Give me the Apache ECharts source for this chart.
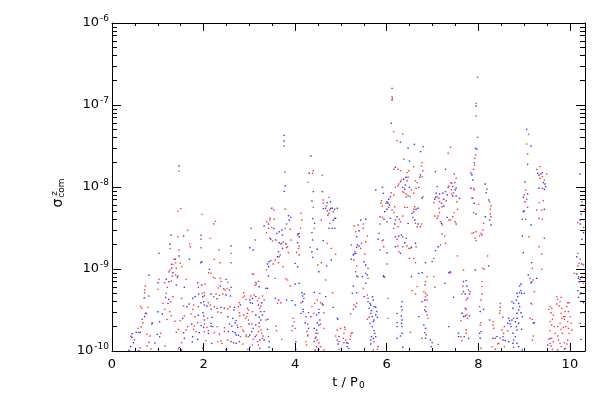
<!DOCTYPE html>
<html><head><meta charset="utf-8">
<script src="https://cdn.jsdelivr.net/npm/echarts@6/dist/echarts.min.js"></script>
<style>html,body{margin:0;padding:0;background:#fff}#c{width:600px;height:400px}</style>
</head><body><div id="c"></div>
<script>
// t / P0 range and log10(sigma) range
const xMax = 10.33;
const xTickValues = [0, 2, 4, 6, 8, 10];
const xMinorValues = [0.5,1,1.5,2.5,3,3.5,4.5,5,5.5,6.5,7,7.5,8.5,9,9.5];
const yDecades = [-10, -9, -8, -7, -6];

// points: [t/P0, log10(sigma_com^z)]
const redPoints = [
[1.463,-7.809],[1.441,-8.297],[1.441,-8.606],[1.266,-8.752],[1.463,-8.768],[1.354,-8.882],[1.332,-8.943],[1.296,-8.943],[1.390,-8.923],[1.405,-8.992],[1.266,-9.012],[1.244,-9.033],[1.317,-9.086],[1.390,-9.073],[1.441,-9.086],[1.150,-9.167],[1.296,-9.147],[1.025,-9.126],[0.726,-9.208],[1.208,-9.224],[1.004,-9.248],[0.712,-9.256],[0.712,-9.289],[0.806,-9.329],[1.186,-9.297],[1.332,-9.338],[1.281,-9.399],[1.113,-9.419],[0.624,-9.460],[0.653,-9.480],[0.785,-9.468],[0.755,-9.541],[1.150,-9.492],[1.259,-9.521],[1.296,-9.569],[1.201,-9.614],[1.376,-9.638],[0.675,-9.655],[0.639,-9.704],[0.879,-9.655],[0.566,-9.724],[0.763,-9.797],[0.828,-9.817],[0.412,-9.821],[0.493,-9.866],[1.062,-9.785],[1.405,-9.773],[1.449,-9.736],[1.157,-9.939],[0.770,-9.939],[0.617,-9.960],[0.850,-9.976],[1.449,-9.976],
[1.506,-8.264],[1.966,-8.334],[2.251,-8.419],[2.221,-8.451],[1.652,-8.529],[1.944,-8.638],[1.696,-8.695],[1.710,-8.728],[1.944,-8.740],[2.141,-8.626],[2.338,-8.769],[2.601,-8.809],[1.491,-8.931],[1.521,-8.972],[2.236,-8.882],[2.360,-8.923],[2.601,-8.923],[2.112,-9.045],[2.163,-9.053],[2.214,-9.102],[2.251,-9.114],[2.367,-9.114],[2.382,-9.151],[2.528,-9.163],[1.616,-9.126],[2.032,-9.183],[1.886,-9.224],[2.324,-9.232],[2.440,-9.240],[2.470,-9.256],[2.513,-9.236],[2.419,-9.305],[1.521,-9.358],[1.966,-9.297],[2.017,-9.289],[2.017,-9.325],[2.221,-9.338],[2.273,-9.305],[2.346,-9.321],[2.878,-9.289],[2.893,-9.329],[2.864,-9.346],[2.930,-9.370],[2.784,-9.411],[2.762,-9.460],[1.564,-9.451],[1.783,-9.439],[1.762,-9.492],[1.886,-9.460],[2.105,-9.411],[2.148,-9.439],[2.236,-9.460],[2.528,-9.484],[2.579,-9.460],[1.579,-9.573],[1.725,-9.549],[1.813,-9.582],[2.090,-9.602],[2.309,-9.525],[2.382,-9.533],[2.784,-9.533],[2.791,-9.573],[2.878,-9.561],[2.915,-9.602],[1.491,-9.630],[1.652,-9.703],[1.798,-9.695],[1.871,-9.655],[2.017,-9.671],[2.075,-9.712],[2.105,-9.752],[2.294,-9.703],[2.455,-9.716],[2.732,-9.687],[2.820,-9.703],[2.857,-9.744],[1.616,-9.744],[1.783,-9.736],[1.835,-9.764],[2.017,-9.764],[2.236,-9.777],[2.455,-9.760],[2.805,-9.825],[2.878,-9.764],[2.930,-9.805],[1.521,-9.899],[2.054,-9.874],[2.309,-9.886],[2.382,-9.874],[2.404,-9.907],[2.528,-9.866],[2.659,-9.899],[2.857,-9.915],[2.930,-9.825],[2.966,-9.980],
[3.761,-7.500],[3.782,-7.821],[4.381,-7.833],[4.396,-7.801],[4.279,-7.943],[4.396,-8.248],[3.534,-8.281],[3.454,-8.382],[3.542,-8.394],[3.447,-8.403],[3.381,-8.423],[3.490,-8.492],[3.417,-8.504],[3.782,-8.272],[3.892,-8.516],[3.782,-8.504],[4.126,-8.321],[4.147,-8.403],[4.118,-8.504],[4.053,-8.585],[4.418,-8.504],[3.125,-8.646],[3.374,-8.557],[3.469,-8.638],[3.505,-8.659],[3.688,-8.695],[3.709,-8.687],[3.746,-8.671],[3.834,-8.728],[3.907,-8.646],[3.812,-8.740],[3.855,-8.801],[4.089,-8.720],[4.074,-8.748],[4.031,-8.797],[4.089,-8.829],[4.330,-8.736],[3.673,-8.829],[3.563,-8.890],[3.520,-8.939],[3.739,-8.972],[3.636,-8.923],[3.651,-8.850],[3.374,-9.012],[3.067,-9.061],[3.089,-9.065],[3.563,-9.114],[3.797,-9.118],[3.834,-9.134],[3.892,-9.207],[3.198,-9.150],[3.155,-9.183],[3.125,-9.195],[3.031,-9.329],[3.104,-9.317],[3.177,-9.386],[3.213,-9.358],[3.286,-9.329],[3.323,-9.378],[3.250,-9.451],[3.615,-9.419],[3.688,-9.411],[2.958,-9.480],[2.979,-9.500],[3.067,-9.520],[3.228,-9.480],[4.126,-9.411],[4.425,-9.419],[4.366,-9.459],[4.403,-9.541],[4.293,-9.533],[2.958,-9.541],[2.943,-9.581],[2.979,-9.622],[3.052,-9.671],[3.359,-9.622],[3.213,-9.703],[3.250,-9.744],[3.271,-9.785],[3.301,-9.817],[3.198,-9.764],[3.155,-9.805],[3.286,-9.846],[2.979,-9.825],[3.082,-9.858],[3.177,-9.886],[3.198,-9.927],[3.067,-9.927],[3.417,-9.825],[3.578,-9.695],[3.593,-9.752],[3.709,-9.858],[3.958,-9.602],[3.980,-9.642],[3.943,-9.695],[4.001,-9.724],[3.928,-9.752],[4.272,-9.671],[4.279,-9.805],[4.272,-9.817],[4.235,-9.886],[4.250,-9.927],[4.439,-9.846],[4.439,-9.988],
[4.592,-7.858],[4.613,-8.159],[4.613,-8.199],[4.738,-8.126],[4.686,-8.232],[4.701,-8.289],[4.759,-8.281],[4.832,-8.301],[4.738,-8.321],[4.862,-8.382],[4.759,-8.443],[4.570,-8.403],[4.701,-8.687],[4.789,-8.748],[4.570,-8.923],[4.497,-8.951],[4.884,-8.821],[4.665,-9.134],[4.818,-9.289],[4.555,-9.411],[4.613,-9.439],[4.482,-9.378],[4.628,-9.533],[4.555,-9.671],[4.628,-9.724],[4.497,-9.785],[4.482,-9.866],[4.519,-9.899],[4.467,-9.947],[4.555,-9.947],[4.628,-9.988],[4.993,-9.724],[4.920,-9.744],[5.081,-9.711],[5.088,-9.736],[5.066,-9.785],[4.884,-9.817],[4.920,-9.866],[5.051,-9.846],[5.103,-9.866],[5.066,-9.899],[4.957,-9.980],[5.212,-9.817],[5.227,-9.785],[5.249,-9.776],[5.197,-9.858],[5.489,-8.451],[5.373,-8.463],[5.285,-8.476],[5.489,-8.504],[5.322,-8.545],[5.577,-8.598],[5.541,-8.667],[5.446,-8.687],[5.227,-8.707],[5.300,-8.789],[5.431,-8.748],[5.519,-8.817],[5.285,-8.890],[5.343,-8.964],[5.322,-9.033],[5.373,-9.094],[5.592,-9.114],[5.489,-9.236],[5.577,-9.317],[5.592,-9.358],[5.343,-9.419],[5.285,-9.439],[5.270,-9.492],[5.212,-9.549],[5.614,-9.589],[5.577,-9.614],[5.723,-9.886],[5.796,-9.980],[5.708,-9.988],[5.884,-8.167],[5.869,-8.199],[5.906,-8.232],[5.854,-8.362],[5.906,-8.370],[5.854,-8.451],[5.927,-8.646],[5.854,-8.768],
[6.116,-6.898],[6.123,-6.919],[6.153,-7.325],[6.350,-7.354],[6.226,-7.435],[6.372,-7.662],[6.591,-7.752],[6.773,-7.703],[6.758,-7.744],[6.788,-7.801],[6.247,-7.784],[6.153,-7.784],[6.299,-7.801],[6.481,-7.801],[6.445,-7.825],[6.320,-7.915],[6.262,-7.963],[6.247,-7.988],[6.189,-8.004],[6.466,-7.882],[6.445,-7.923],[6.539,-8.036],[6.627,-7.923],[6.664,-7.947],[6.773,-7.874],[6.642,-8.016],[6.591,-8.077],[6.518,-8.118],[6.423,-8.126],[6.372,-8.069],[6.350,-8.057],[6.423,-8.085],[6.612,-8.240],[6.788,-8.118],[6.591,-8.272],[6.591,-8.301],[6.627,-8.443],[6.758,-8.451],[6.664,-8.484],[6.101,-8.069],[6.153,-8.097],[5.985,-8.199],[6.043,-8.248],[6.153,-8.313],[6.116,-8.280],[6.174,-8.240],[6.007,-8.423],[6.153,-8.504],[6.247,-8.484],[6.277,-8.394],[6.299,-8.423],[6.350,-8.354],[6.393,-8.248],[6.445,-8.248],[7.394,-7.516],[7.342,-7.589],[7.394,-7.947],[7.357,-7.988],[7.415,-8.036],[7.028,-8.191],[7.102,-8.118],[7.138,-8.138],[7.153,-8.179],[7.299,-8.167],[7.211,-8.240],[7.138,-8.260],[7.153,-8.313],[7.123,-8.354],[7.174,-8.423],[7.211,-8.463],[7.357,-8.402],[7.394,-8.402],[7.050,-8.354],[7.102,-8.382],[5.897,-8.654],[5.934,-8.728],[6.007,-8.939],[5.955,-9.101],[6.226,-8.638],[6.350,-8.606],[6.247,-8.719],[6.262,-8.788],[6.350,-8.728],[6.445,-8.719],[6.481,-8.748],[6.518,-8.748],[6.642,-8.728],[6.496,-8.870],[6.591,-8.870],[6.627,-8.923],[7.211,-8.573],[7.269,-8.597],[7.284,-8.687],[7.174,-8.707],[7.028,-8.870],[6.883,-9.093],[6.846,-9.154],[6.831,-9.195],[6.810,-9.276],[6.846,-9.297],[6.883,-9.317],[6.846,-9.337],[6.883,-9.378],[7.394,-9.045],[7.028,-9.093],[7.050,-9.223],[6.664,-9.215],[6.554,-9.264],[6.627,-9.305],[6.028,-9.358],[6.335,-9.500],[6.028,-9.602],[6.846,-9.459],[6.883,-9.561],[6.905,-9.602],[6.861,-9.805],[6.773,-9.845],[7.123,-9.919],[6.518,-9.772],
[7.984,-6.662],[7.954,-6.980],[7.954,-7.134],[7.984,-7.394],[7.940,-7.610],[7.925,-7.650],[7.918,-7.732],[7.896,-7.784],[7.896,-8.016],[7.911,-8.036],[7.860,-8.138],[7.881,-8.138],[7.896,-8.313],[7.473,-7.841],[7.516,-7.894],[7.422,-7.955],[7.458,-8.069],[7.422,-8.085],[7.531,-8.179],[7.546,-8.272],[7.473,-8.313],[7.443,-8.362],[7.495,-8.423],[8.188,-8.028],[8.246,-8.179],[8.276,-8.232],[8.261,-8.272],[8.261,-8.329],[8.276,-8.362],[8.115,-8.443],[8.100,-8.524],[8.057,-8.565],[8.027,-8.597],[7.954,-8.545],[7.933,-8.626],[7.896,-8.557],[7.860,-8.565],[7.954,-8.654],[8.006,-8.211],[7.546,-8.841],[7.677,-9.012],[8.203,-8.841],[8.100,-8.992],[8.130,-9.004],[7.662,-9.207],[7.641,-9.305],[7.787,-9.256],[7.823,-9.276],[7.735,-9.378],[7.714,-9.479],[7.750,-9.561],[7.765,-9.601],[7.619,-9.630],[7.619,-9.825],[7.735,-9.744],[7.735,-9.784],[7.641,-9.874],[8.078,-9.154],[8.078,-9.215],[8.078,-9.305],[8.057,-9.378],[8.027,-9.459],[8.057,-9.654],[8.042,-9.683],[8.057,-9.967],[8.319,-9.642],[8.319,-9.683],[8.334,-9.723],[8.371,-9.845],[8.444,-9.906],[8.422,-9.914],[8.298,-9.947],[8.371,-9.979],[8.480,-9.419],[8.480,-9.467],[8.480,-9.508],[8.465,-9.540],[8.538,-9.589],[8.568,-9.703],[8.517,-9.744],[8.553,-9.784],[8.480,-9.845],[8.568,-9.947],[8.772,-9.601],[8.772,-9.955],[8.641,-9.752],
[9.099,-7.358],[9.056,-7.476],[9.077,-7.598],[9.348,-7.752],[9.275,-7.785],[9.369,-7.842],[9.494,-7.842],[9.399,-7.874],[9.348,-7.894],[9.442,-7.915],[9.399,-8.016],[9.034,-8.037],[9.004,-8.098],[9.056,-8.150],[9.077,-8.248],[9.034,-8.394],[9.326,-8.191],[9.421,-8.167],[9.275,-8.281],[9.384,-8.281],[9.326,-8.382],[9.399,-8.394],[9.107,-8.606],[9.326,-8.728],[9.384,-8.817],[9.384,-9.004],[9.180,-8.992],[9.202,-9.134],[9.165,-9.155],[9.223,-9.276],[9.150,-9.419],[9.165,-9.427],[9.128,-9.602],[9.180,-9.614],[9.202,-9.817],[9.180,-9.866],[9.567,-9.459],[9.545,-9.492],[9.603,-9.480],[9.588,-9.533],[9.640,-9.561],[9.618,-9.614],[9.567,-9.642],[9.603,-9.683],[9.567,-9.752],[9.661,-9.703],[9.676,-9.785],[9.603,-9.846],[9.545,-9.858],[9.640,-9.886],[9.567,-9.907],[9.588,-9.939],[9.618,-9.980],[9.713,-9.337],[9.734,-9.370],[9.713,-9.427],[9.807,-9.346],[9.786,-9.398],[9.764,-9.451],[9.822,-9.480],[9.807,-9.541],[9.859,-9.581],[9.822,-9.602],[9.880,-9.614],[9.895,-9.581],[9.786,-9.663],[9.734,-9.703],[9.807,-9.736],[9.859,-9.711],[9.837,-9.785],[9.734,-9.817],[9.749,-9.866],[9.786,-9.907],[9.807,-9.947],[9.734,-9.988],[9.880,-9.899],[9.953,-9.411],[9.983,-9.411],[9.932,-9.459],[9.895,-9.520],[9.968,-9.520],[10.005,-9.581],[9.953,-9.642],[10.026,-9.663],[9.968,-9.724],[10.041,-9.744],[9.910,-9.703],[9.983,-9.785],[9.953,-9.866],[9.932,-9.915],[10.005,-9.947],[9.880,-9.980],[10.260,-8.179],[10.318,-8.272],[10.172,-8.435],[10.297,-8.492],[10.172,-8.809],[10.224,-8.882],[10.202,-8.931],[10.172,-8.964],[10.297,-8.951],[10.099,-9.053],[10.187,-9.094],[10.260,-9.094],[10.297,-9.175],[10.224,-9.305],[10.245,-9.533]
];
const bluePoints = [
[1.463,-7.744],[1.288,-8.586],[1.266,-8.699],[1.463,-8.842],[1.025,-8.809],[1.383,-8.882],[1.303,-8.988],[1.332,-9.045],[1.427,-9.102],[0.806,-9.077],[1.186,-9.126],[1.244,-9.155],[1.004,-9.167],[1.405,-9.195],[0.704,-9.354],[1.171,-9.346],[1.237,-9.370],[1.223,-9.419],[0.733,-9.541],[0.712,-9.582],[1.004,-9.521],[1.098,-9.549],[1.040,-9.643],[0.660,-9.614],[0.872,-9.671],[0.587,-9.773],[0.617,-9.773],[0.529,-9.773],[0.441,-9.789],[0.434,-9.834],[0.471,-9.899],[0.989,-9.797],[1.040,-9.825],[0.938,-9.903],[0.806,-9.895],[0.405,-9.947],[0.368,-9.990],[0.587,-9.996],[1.471,-9.956],
[1.564,-8.598],[1.944,-8.590],[2.601,-8.720],[1.689,-8.882],[1.959,-8.911],[1.937,-8.923],[2.127,-9.004],[2.492,-9.126],[1.579,-9.224],[1.871,-9.167],[1.959,-9.195],[2.367,-9.208],[2.565,-9.256],[2.601,-9.224],[2.492,-9.317],[2.586,-9.329],[1.762,-9.358],[1.813,-9.338],[1.893,-9.305],[1.981,-9.338],[2.163,-9.305],[2.294,-9.362],[2.805,-9.439],[2.674,-9.468],[2.659,-9.500],[1.637,-9.460],[1.689,-9.427],[1.944,-9.411],[2.002,-9.399],[2.017,-9.439],[2.075,-9.451],[2.163,-9.492],[2.294,-9.480],[2.382,-9.468],[2.455,-9.476],[1.543,-9.602],[1.886,-9.565],[1.988,-9.533],[2.002,-9.573],[2.017,-9.622],[2.185,-9.590],[2.163,-9.663],[2.528,-9.582],[2.637,-9.602],[2.711,-9.630],[1.740,-9.671],[1.944,-9.691],[2.002,-9.712],[2.163,-9.695],[2.200,-9.703],[2.565,-9.671],[2.616,-9.695],[2.689,-9.655],[2.747,-9.712],[1.564,-9.777],[1.908,-9.777],[2.105,-9.785],[2.346,-9.793],[2.543,-9.764],[2.637,-9.764],[2.689,-9.777],[2.711,-9.805],[2.762,-9.809],[1.579,-9.846],[1.762,-9.825],[1.754,-9.890],[1.871,-9.858],[2.178,-9.907],[2.601,-9.886],[2.711,-9.907],[2.784,-9.886],[1.521,-9.988],[1.981,-9.968],[2.492,-9.980],
[3.761,-7.370],[3.761,-7.439],[3.782,-7.988],[3.761,-8.053],[4.345,-7.622],[4.308,-7.833],[4.396,-8.057],[4.366,-8.171],[3.490,-8.260],[3.323,-8.476],[3.417,-8.451],[3.534,-8.508],[3.038,-8.504],[3.855,-8.350],[3.907,-8.370],[3.870,-8.403],[3.812,-8.451],[3.709,-8.524],[3.651,-8.545],[3.600,-8.565],[3.724,-8.585],[4.089,-8.565],[4.060,-8.573],[4.089,-8.606],[4.381,-8.386],[4.425,-8.443],[4.366,-8.557],[4.381,-8.646],[3.009,-8.740],[3.082,-8.768],[3.447,-8.626],[3.578,-8.646],[3.651,-8.679],[3.797,-8.695],[3.724,-8.748],[4.053,-8.679],[4.366,-8.789],[4.381,-8.858],[3.636,-8.789],[3.615,-8.850],[3.469,-8.898],[3.432,-8.911],[3.396,-8.939],[3.417,-8.972],[4.001,-8.931],[4.053,-8.972],[3.417,-9.085],[4.001,-9.183],[4.089,-9.175],[3.140,-9.163],[3.213,-9.216],[3.359,-9.236],[3.396,-9.236],[3.067,-9.358],[3.009,-9.378],[3.023,-9.411],[3.067,-9.419],[3.140,-9.337],[3.271,-9.411],[3.198,-9.439],[3.563,-9.358],[3.636,-9.378],[3.812,-9.378],[3.928,-9.386],[4.001,-9.439],[3.250,-9.520],[3.286,-9.561],[3.323,-9.520],[3.140,-9.561],[3.213,-9.589],[4.147,-9.289],[4.162,-9.329],[4.199,-9.305],[4.191,-9.358],[4.162,-9.398],[4.177,-9.492],[4.177,-9.520],[4.126,-9.541],[4.418,-9.285],[4.345,-9.581],[2.994,-9.671],[3.082,-9.724],[3.140,-9.683],[3.213,-9.655],[3.250,-9.622],[3.403,-9.614],[3.228,-9.866],[3.323,-9.866],[3.052,-9.764],[3.009,-9.805],[3.125,-9.825],[3.009,-9.955],[3.228,-9.968],[3.396,-9.736],[3.432,-9.886],[4.016,-9.886],[4.235,-9.581],[4.220,-9.655],[4.293,-9.724],[4.257,-9.764],[4.418,-9.724],[4.454,-9.785],[4.418,-9.886],[3.432,-9.955],[4.016,-9.980],
[4.592,-8.057],[4.701,-8.191],[4.774,-8.179],[4.665,-8.260],[4.811,-8.260],[4.774,-8.260],[4.862,-8.272],[4.716,-8.342],[4.613,-8.264],[4.920,-8.260],[4.832,-8.403],[4.884,-8.382],[4.738,-8.504],[4.811,-8.504],[4.869,-8.504],[4.613,-8.654],[4.482,-8.760],[4.686,-8.964],[4.789,-8.890],[4.519,-9.033],[4.540,-9.297],[4.665,-9.337],[4.592,-9.427],[4.519,-9.492],[4.519,-9.533],[4.467,-9.561],[4.540,-9.622],[4.482,-9.655],[4.519,-9.683],[4.467,-9.744],[4.453,-9.833],[4.519,-9.980],[4.832,-9.468],[4.920,-9.602],[4.935,-9.614],[4.957,-9.825],[4.957,-9.886],[4.935,-9.915],[5.124,-9.899],[5.154,-9.907],[5.139,-9.947],[5.008,-9.968],[5.176,-9.968],[5.431,-8.403],[5.541,-8.394],[5.395,-8.533],[5.343,-8.606],[5.358,-8.707],[5.395,-8.720],[5.343,-8.736],[5.285,-8.817],[5.270,-8.829],[5.322,-8.809],[5.227,-8.882],[5.504,-8.911],[5.541,-8.951],[5.592,-8.992],[5.541,-9.053],[5.577,-9.073],[5.343,-9.085],[5.468,-9.094],[5.541,-9.175],[5.270,-9.207],[5.249,-9.297],[5.343,-9.289],[5.504,-9.337],[5.322,-9.459],[5.592,-9.398],[5.635,-9.419],[5.687,-9.337],[5.708,-9.378],[5.650,-9.439],[5.723,-9.459],[5.614,-9.480],[5.760,-9.467],[5.665,-9.508],[5.781,-9.520],[5.650,-9.541],[5.687,-9.581],[5.708,-9.642],[5.723,-9.622],[5.760,-9.561],[5.796,-9.589],[5.635,-9.663],[5.687,-9.703],[5.723,-9.752],[5.738,-9.785],[5.665,-9.825],[5.650,-9.866],[5.708,-9.846],[5.760,-9.825],[5.650,-9.915],[5.811,-9.947],[5.760,-8.037],[5.906,-8.004],[5.927,-8.077],[5.942,-8.394],[5.832,-8.565],[5.811,-8.638],[5.927,-9.085],
[6.116,-6.797],[6.116,-6.939],[6.101,-7.223],[6.299,-7.455],[6.605,-7.480],[6.795,-7.508],[6.466,-7.528],[6.737,-7.569],[6.496,-7.683],[6.189,-7.760],[6.423,-7.882],[6.372,-7.906],[6.299,-7.935],[6.350,-8.004],[6.408,-7.975],[6.393,-8.028],[6.496,-8.004],[6.700,-8.004],[6.737,-7.854],[6.722,-7.882],[6.466,-8.110],[6.685,-8.260],[6.773,-8.138],[6.642,-8.272],[6.554,-8.321],[6.569,-8.370],[6.612,-8.402],[6.685,-8.451],[6.737,-8.484],[6.080,-8.118],[6.043,-8.150],[6.007,-8.179],[6.028,-8.199],[6.058,-8.219],[5.955,-8.301],[6.007,-8.272],[6.080,-8.382],[6.189,-8.402],[6.226,-8.362],[6.174,-8.451],[6.466,-8.443],[7.065,-7.813],[7.284,-7.784],[7.342,-8.004],[7.321,-8.097],[7.284,-8.057],[7.226,-8.077],[7.153,-8.085],[7.102,-7.996],[7.080,-8.077],[7.065,-8.126],[7.050,-8.150],[7.196,-8.199],[7.248,-8.150],[7.248,-8.232],[7.321,-8.370],[7.196,-8.443],[6.007,-8.801],[5.934,-9.093],[6.189,-8.606],[6.262,-8.597],[6.320,-8.585],[6.423,-8.626],[6.393,-8.679],[6.189,-8.728],[6.299,-8.809],[6.539,-8.736],[6.627,-8.687],[6.539,-9.093],[7.123,-8.728],[7.065,-8.776],[6.992,-8.910],[6.846,-8.923],[6.773,-9.045],[6.700,-9.053],[6.831,-9.378],[6.773,-9.398],[6.700,-9.581],[7.357,-9.045],[7.269,-9.175],[6.335,-9.398],[6.320,-9.459],[6.226,-9.541],[6.320,-9.573],[6.335,-9.622],[6.320,-9.662],[6.226,-9.654],[6.226,-9.703],[6.335,-9.703],[6.335,-9.784],[6.299,-9.817],[6.226,-9.845],[6.831,-9.500],[6.861,-9.520],[6.810,-9.683],[6.846,-9.723],[6.831,-9.776],[6.846,-9.845],[6.956,-9.866],[6.992,-9.898],[6.977,-9.947],[7.357,-9.703],[6.350,-9.955],
[7.954,-7.012],[7.940,-7.528],[7.969,-7.540],[7.911,-7.703],[7.838,-7.833],[7.860,-7.853],[7.881,-7.914],[7.838,-8.016],[7.911,-8.199],[7.954,-8.329],[7.487,-7.947],[7.443,-7.996],[7.516,-8.016],[7.495,-8.036],[7.443,-8.110],[7.516,-8.110],[7.589,-8.138],[7.516,-8.451],[8.152,-7.963],[8.173,-8.069],[8.225,-8.158],[8.246,-8.402],[8.276,-8.463],[8.152,-8.362],[8.078,-8.585],[8.225,-8.963],[7.933,-9.012],[7.385,-9.032],[7.735,-9.142],[7.677,-9.154],[7.750,-9.207],[7.677,-9.276],[7.714,-9.305],[7.808,-9.305],[7.765,-9.357],[7.458,-9.345],[7.735,-9.492],[7.641,-9.540],[7.677,-9.581],[7.714,-9.573],[7.568,-9.784],[7.568,-9.825],[7.692,-9.825],[7.787,-9.845],[7.808,-9.573],[8.115,-9.492],[8.042,-9.520],[8.057,-9.764],[8.027,-9.784],[8.042,-9.845],[8.246,-9.622],[8.407,-9.825],[8.319,-9.845],[8.538,-9.825],[8.538,-9.866],[8.590,-9.874],[8.736,-9.398],[8.772,-9.419],[8.757,-9.479],[8.663,-9.601],[8.684,-9.630],[8.641,-9.662],[8.699,-9.670],[8.736,-9.622],[8.714,-9.703],[8.809,-9.642],[8.845,-9.601],[8.831,-9.703],[8.845,-9.744],[8.882,-9.662],[8.757,-9.784],[8.809,-9.825],[8.772,-9.866],[8.757,-9.906],[8.845,-9.906],[8.882,-9.947],[8.903,-9.207],[8.903,-9.288],[8.845,-9.296],[8.860,-9.337],[8.831,-9.378],[8.882,-9.419],[8.903,-9.459],[8.882,-9.500],[8.845,-9.540],[8.663,-9.886],
[9.056,-7.297],[9.150,-7.500],[9.077,-7.724],[9.296,-7.833],[9.326,-7.854],[9.399,-7.825],[9.421,-7.947],[9.457,-7.963],[9.472,-7.996],[9.442,-8.028],[9.326,-8.016],[9.019,-7.939],[8.983,-8.126],[9.077,-8.085],[9.019,-8.179],[9.004,-8.289],[8.983,-8.301],[8.961,-8.394],[9.442,-8.272],[9.150,-8.463],[8.961,-8.598],[9.442,-8.626],[8.983,-8.801],[9.165,-8.923],[9.092,-9.073],[9.128,-9.114],[9.150,-9.167],[9.275,-9.114],[8.931,-9.183],[8.931,-9.264],[8.946,-9.297],[9.004,-9.297],[8.931,-9.533],[8.961,-9.581],[8.946,-9.736],[9.223,-9.655],[9.202,-9.663],[8.961,-9.988],[9.515,-9.927],[9.567,-9.846],[9.895,-9.968],[10.224,-7.842],[10.275,-8.220],[10.245,-8.333],[10.224,-8.403],[10.224,-8.451],[10.297,-8.557],[10.260,-8.638],[10.151,-8.850],[10.260,-8.939],[10.151,-9.061],[10.224,-9.126],[10.202,-9.155],[10.172,-9.264],[10.245,-9.289],[10.187,-9.346],[10.297,-9.411],[10.224,-9.663],[10.245,-9.858],[10.187,-9.114]
];

const yMajor = yDecades.slice();
const yMinor = [];
for (let i = 0; i < yDecades.length - 1; i++)
  for (let k = 2; k <= 9; k++) yMinor.push(yDecades[i] + Math.log10(k));

const FONT = 'DejaVu Sans';
const black = '#000';
const noSplit = { show: false };

function xAx(pos, vals, len, withLabel, withLine) {
  const a = {
    type: 'value', position: pos, min: 0, max: xMax,
    axisLine: { show: withLine, onZero: false, lineStyle: { color: black, width: 1 } },
    axisTick: { show: true, inside: true, length: len, customValues: vals, lineStyle: { color: black, width: 1 } },
    splitLine: noSplit, minorTick: { show: false },
    axisLabel: { show: withLabel, customValues: vals, color: black, fontFamily: FONT, fontSize: 13, margin: 7,
      formatter: v => String(v) }
  };
  if (withLabel) {
    a.name = '{a|t / P}{s|0}';
    a.nameLocation = 'middle';
    a.nameGap = 22;
    a.nameTextStyle = { rich: {
      a: { fontFamily: FONT, fontSize: 13, color: black },
      s: { fontFamily: FONT, fontSize: 9, color: black, padding: [6, 0, 0, 1] }
    } };
  }
  return a;
}
function yAx(pos, vals, len, withLabel, withLine) {
  const a = {
    type: 'value', position: pos, min: -10, max: -6,
    axisLine: { show: withLine, onZero: false, lineStyle: { color: black, width: 1 } },
    axisTick: { show: true, inside: true, length: len, customValues: vals, lineStyle: { color: black, width: 1 } },
    splitLine: noSplit, minorTick: { show: false },
    axisLabel: { show: withLabel, customValues: vals, color: black, margin: 3,
      formatter: v => '{n|10}{e|' + Math.round(v) + '}',
      rich: {
        n: { fontFamily: FONT, fontSize: 13, color: black },
        e: { fontFamily: FONT, fontSize: 9, color: black, padding: [0, 0, 8, 1] }
      } }
  };
  if (withLabel) {
    a.name = '{s|σ}{c|com}';
    a.nameLocation = 'middle';
    a.nameRotate = 90;
    a.nameGap = 44;
    a.nameTextStyle = { padding: [0, 12, 0, 0], rich: {
      s: { fontFamily: FONT, fontSize: 14, color: black },
      c: { fontFamily: FONT, fontSize: 9, color: black, padding: [5, 0, 0, 1] }
    } };
  }
  return a;
}

const chart = echarts.init(document.getElementById('c'), null, { renderer: 'canvas' });
chart.setOption({
  backgroundColor: '#fff',
  animation: false,
  grid: { left: 112, right: 15, top: 23, bottom: 49, containLabel: false },
  xAxis: [
    xAx('bottom', xTickValues, 8, true, true),
    xAx('bottom', xMinorValues, 3, false, false),
    xAx('top', xTickValues, 8, false, true),
    xAx('top', xMinorValues, 3, false, false)
  ],
  yAxis: [
    yAx('left', yMajor, 9, true, true),
    yAx('left', yMinor, 5, false, false),
    yAx('right', yMajor, 9, false, true),
    yAx('right', yMinor, 5, false, false)
  ],
  graphic: [{
    type: 'text', left: 50, top: 191, rotation: Math.PI / 2,
    style: { text: 'z', font: '9px "DejaVu Sans"', fill: black }
  }],
  series: [
    { name: 'red', type: 'scatter', data: redPoints, symbol: 'rect', symbolSize: 1.4,
      itemStyle: { color: '#ff0000' }, silent: true, xAxisIndex: 0, yAxisIndex: 0 },
    { name: 'blue', type: 'scatter', data: bluePoints, symbol: 'rect', symbolSize: 1.4,
      itemStyle: { color: '#0000ff' }, silent: true, xAxisIndex: 0, yAxisIndex: 0 }
  ]
});
</script>
</body></html>
